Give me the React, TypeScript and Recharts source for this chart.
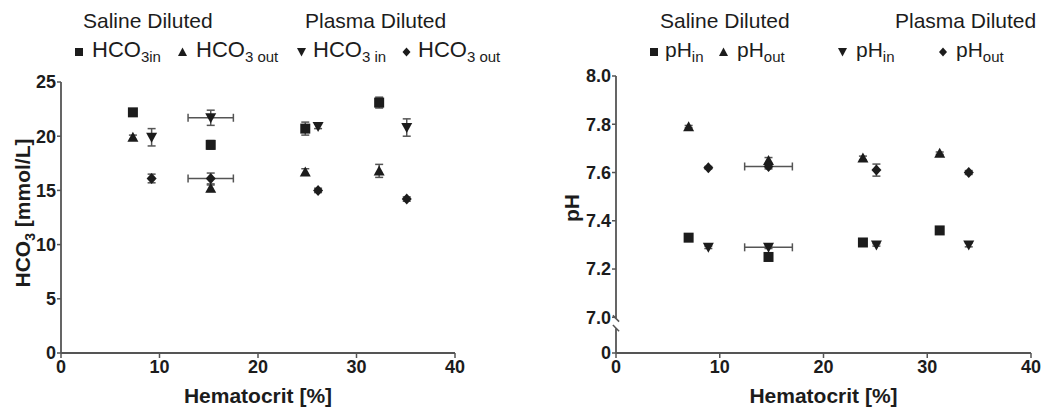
import React from "react";
import { ScatterChart, Scatter, XAxis, YAxis, ErrorBar, ReferenceLine } from "recharts";

// Hematocrit [%] of each dilution step, as placed in the HCO3 panel
const HCT_SALINE_L = [7.3, 15.2, 24.8, 32.3];
const HCT_PLASMA_L = [9.2, 15.2, 26.1, 35.1];
// ... and as placed in the pH panel
const HCT_SALINE_R = [7.0, 14.7, 23.8, 31.2];
const HCT_PLASMA_R = [8.9, 14.7, 25.1, 34.0];
const HCT_PLASMA_SD = [0, 2.3, 0, 0];

// HCO3 [mmol/L]
const HCO3_SAL_IN = [22.2, 19.2, 20.7, 23.1];
const HCO3_SAL_IN_SD = [0.2, 0.4, 0.6, 0.5];
const HCO3_SAL_OUT = [19.9, 15.2, 16.7, 16.8];
const HCO3_SAL_OUT_SD = [0.2, 0.3, 0.3, 0.6];
const HCO3_PLA_IN = [19.9, 21.7, 20.9, 20.8];
const HCO3_PLA_IN_SD = [0.8, 0.7, 0.2, 0.8];
const HCO3_PLA_OUT = [16.1, 16.1, 15.0, 14.2];
const HCO3_PLA_OUT_SD = [0.4, 0.5, 0.2, 0.2];

// pH
const PH_SAL_IN = [7.33, 7.25, 7.31, 7.36];
const PH_SAL_IN_SD = [0.005, 0.005, 0.005, 0.005];
const PH_SAL_OUT = [7.79, 7.65, 7.66, 7.68];
const PH_SAL_OUT_SD = [0.005, 0.012, 0.008, 0.005];
const PH_PLA_IN = [7.29, 7.29, 7.3, 7.3];
const PH_PLA_IN_SD = [0.005, 0.005, 0.005, 0.008];
const PH_PLA_OUT = [7.62, 7.625, 7.61, 7.6];
const PH_PLA_OUT_SD = [0.005, 0.01, 0.025, 0.008];

const HCT_TICKS = [0, 10, 20, 30, 40];
const HCO3_TICKS = [0, 5, 10, 15, 20, 25];
const PH_FLOOR = 6.852; // bottom of the broken axis, labelled "0"
const PH_TICKS = [PH_FLOOR, 7.0, 7.2, 7.4, 7.6, 7.8, 8.0];

const FONT = "'Liberation Sans', Arial, Helvetica, sans-serif";
const INK = "#1c1c1c";
const AXIS = "#555";

const pts = (xs: number[], ys: number[], sd: number[], xsd?: number[]) =>
  xs.map((x, i) => ({ x, y: ys[i], ey: sd[i], ex: xsd ? xsd[i] : 0 }));

type Kind = "square" | "up" | "down" | "diamond";

const marker = (kind: Kind) => (p: any) => {
  const { cx, cy } = p;
  if (cx == null || cy == null) return null;
  if (kind === "square") return <rect x={cx - 5} y={cy - 5} width={10} height={10} fill={INK} />;
  if (kind === "up")
    return <path d={`M${cx},${cy - 5.5}L${cx + 5.5},${cy + 4.5}L${cx - 5.5},${cy + 4.5}Z`} fill={INK} />;
  if (kind === "down")
    return <path d={`M${cx - 5.5},${cy - 4.5}L${cx + 5.5},${cy - 4.5}L${cx},${cy + 5.5}Z`} fill={INK} />;
  return <path d={`M${cx},${cy - 5.5}L${cx + 5},${cy}L${cx},${cy + 5.5}L${cx - 5},${cy}Z`} fill={INK} />;
};

const tick = { fill: INK, fontSize: 18, fontWeight: 700, fontFamily: FONT };
const axisLine = { stroke: AXIS, strokeWidth: 1.8 };
const tickLine = { stroke: AXIS, strokeWidth: 1.5 };
const xLabel = {
  value: "Hematocrit [%]",
  position: "insideBottom" as const,
  offset: 14,
  style: { fill: INK, fontSize: 21, fontWeight: 700, fontFamily: FONT },
};

function HcoChart() {
  const groups: [any[], Kind][] = [
    [pts(HCT_SALINE_L, HCO3_SAL_IN, HCO3_SAL_IN_SD), "square"],
    [pts(HCT_SALINE_L, HCO3_SAL_OUT, HCO3_SAL_OUT_SD), "up"],
    [pts(HCT_PLASMA_L, HCO3_PLA_IN, HCO3_PLA_IN_SD, HCT_PLASMA_SD), "down"],
    [pts(HCT_PLASMA_L, HCO3_PLA_OUT, HCO3_PLA_OUT_SD, HCT_PLASMA_SD), "diamond"],
  ];
  return (
    <ScatterChart width={525} height={417} margin={{ top: 82, right: 70, bottom: 0, left: 0 }}>
      <XAxis
        type="number"
        dataKey="x"
        domain={[0, 40]}
        ticks={HCT_TICKS}
        tick={tick}
        axisLine={axisLine}
        tickLine={tickLine}
        tickSize={5}
        height={64}
        label={xLabel}
      />
      <YAxis
        type="number"
        dataKey="y"
        domain={[0, 25]}
        ticks={HCO3_TICKS}
        tick={tick}
        axisLine={axisLine}
        tickLine={tickLine}
        tickSize={4}
        tickMargin={1}
        width={61}
      />
      {groups.map(([d, k], i) => (
        <Scatter key={i} data={d} shape={marker(k)} isAnimationActive={false}>
          <ErrorBar dataKey="ey" direction="y" width={4} stroke={AXIS} strokeWidth={1.5} />
          <ErrorBar dataKey="ex" direction="x" width={4} stroke={AXIS} strokeWidth={1.5} />
        </Scatter>
      ))}
    </ScatterChart>
  );
}

function PhChart() {
  const groups: [any[], Kind][] = [
    [pts(HCT_SALINE_R, PH_SAL_IN, PH_SAL_IN_SD), "square"],
    [pts(HCT_SALINE_R, PH_SAL_OUT, PH_SAL_OUT_SD), "up"],
    [pts(HCT_PLASMA_R, PH_PLA_IN, PH_PLA_IN_SD, HCT_PLASMA_SD), "down"],
    [pts(HCT_PLASMA_R, PH_PLA_OUT, PH_PLA_OUT_SD, HCT_PLASMA_SD), "diamond"],
  ];
  return (
    <ScatterChart width={525} height={417} margin={{ top: 76, right: 19, bottom: 0, left: 0 }}>
      <XAxis
        type="number"
        dataKey="x"
        domain={[0, 40]}
        ticks={HCT_TICKS}
        tick={tick}
        axisLine={axisLine}
        tickLine={tickLine}
        tickSize={5}
        height={64}
        label={xLabel}
      />
      <YAxis
        type="number"
        dataKey="y"
        domain={[PH_FLOOR, 8.0]}
        ticks={PH_TICKS}
        tickFormatter={(v: number) => (v < 6.9 ? "0" : v.toFixed(1))}
        tick={tick}
        axisLine={false}
        tickLine={tickLine}
        tickSize={4}
        tickMargin={1}
        width={91}
      />
      {/* broken y axis line */}
      <ReferenceLine
        segment={[{ x: 0, y: PH_FLOOR }, { x: 0, y: 6.955 }]}
        stroke={AXIS}
        strokeWidth={1.8}
        ifOverflow="visible"
      />
      <ReferenceLine
        segment={[{ x: 0, y: 6.995 }, { x: 0, y: 8.0 }]}
        stroke={AXIS}
        strokeWidth={1.8}
        ifOverflow="visible"
      />
      <ReferenceLine
        segment={[{ x: -0.3, y: 7.008 }, { x: 0.3, y: 6.982 }]}
        stroke={AXIS}
        strokeWidth={1.5}
        ifOverflow="visible"
      />
      <ReferenceLine
        segment={[{ x: -0.3, y: 6.968 }, { x: 0.3, y: 6.942 }]}
        stroke={AXIS}
        strokeWidth={1.5}
        ifOverflow="visible"
      />
      {groups.map(([d, k], i) => (
        <Scatter key={i} data={d} shape={marker(k)} isAnimationActive={false}>
          <ErrorBar dataKey="ey" direction="y" width={4} stroke={AXIS} strokeWidth={1.5} />
          <ErrorBar dataKey="ex" direction="x" width={4} stroke={AXIS} strokeWidth={1.5} />
        </Scatter>
      ))}
    </ScatterChart>
  );
}

function Overlay() {
  const t = { fill: INK, fontFamily: FONT };
  const sub = { fontSize: 15 };
  return (
    <svg
      width={1050}
      height={417}
      style={{ position: "absolute", left: 0, top: 0, pointerEvents: "none" }}
    >
      {/* left legend */}
      <text x={83} y={28} fontSize={21} {...t}>Saline Diluted</text>
      <text x={305} y={28} fontSize={21} {...t}>Plasma Diluted</text>
      <rect x={75} y={48} width={8} height={8} fill={INK} />
      <text x={92} y={57} fontSize={22} {...t}>
        HCO<tspan dy={5} {...sub}>3in</tspan>
      </text>
      <path d="M182.5,47.5L187,56L178,56Z" fill={INK} />
      <text x={196} y={57} fontSize={22} {...t}>
        HCO<tspan dy={5} {...sub}>3 out</tspan>
      </text>
      <path d="M297,48L306,48L301.5,56.5Z" fill={INK} />
      <text x={313} y={57} fontSize={22} {...t}>
        HCO<tspan dy={5} {...sub}>3 in</tspan>
      </text>
      <path d="M406.5,47.5L410.5,52L406.5,56.5L402.5,52Z" fill={INK} />
      <text x={418} y={57} fontSize={22} {...t}>
        HCO<tspan dy={5} {...sub}>3 out</tspan>
      </text>

      {/* right legend */}
      <text x={660} y={28} fontSize={21} {...t}>Saline Diluted</text>
      <text x={895} y={28} fontSize={21} {...t}>Plasma Diluted</text>
      <rect x={650} y={48} width={8} height={8} fill={INK} />
      <text x={665} y={57} fontSize={21} {...t}>
        pH<tspan dy={5} {...sub}>in</tspan>
      </text>
      <path d="M723.5,47.5L728,56L719,56Z" fill={INK} />
      <text x={737} y={57} fontSize={21} {...t}>
        pH<tspan dy={5} {...sub}>out</tspan>
      </text>
      <path d="M838,48L847,48L842.5,56.5Z" fill={INK} />
      <text x={856} y={57} fontSize={21} {...t}>
        pH<tspan dy={5} {...sub}>in</tspan>
      </text>
      <path d="M943,47.5L947,52L943,56.5L939,52Z" fill={INK} />
      <text x={956} y={57} fontSize={21} {...t}>
        pH<tspan dy={5} {...sub}>out</tspan>
      </text>

      {/* y axis titles */}
      <text
        transform="translate(30,213) rotate(-90)"
        textAnchor="middle"
        fontSize={21}
        fontWeight={700}
        {...t}
      >
        HCO<tspan dy={5} fontSize={14}>3</tspan>
        <tspan dy={-5}> [mmol/L]</tspan>
      </text>
      <text
        transform="translate(579,208) rotate(-90)"
        textAnchor="middle"
        fontSize={21}
        fontWeight={700}
        {...t}
      >
        pH
      </text>
    </svg>
  );
}

export default function App() {
  return (
    <div style={{ position: "absolute", left: 0, top: 0, width: 1050, height: 417, background: "#fff" }}>
      <div style={{ position: "absolute", left: 0, top: 0 }}>
        <HcoChart />
      </div>
      <div style={{ position: "absolute", left: 525, top: 0 }}>
        <PhChart />
      </div>
      <Overlay />
    </div>
  );
}
